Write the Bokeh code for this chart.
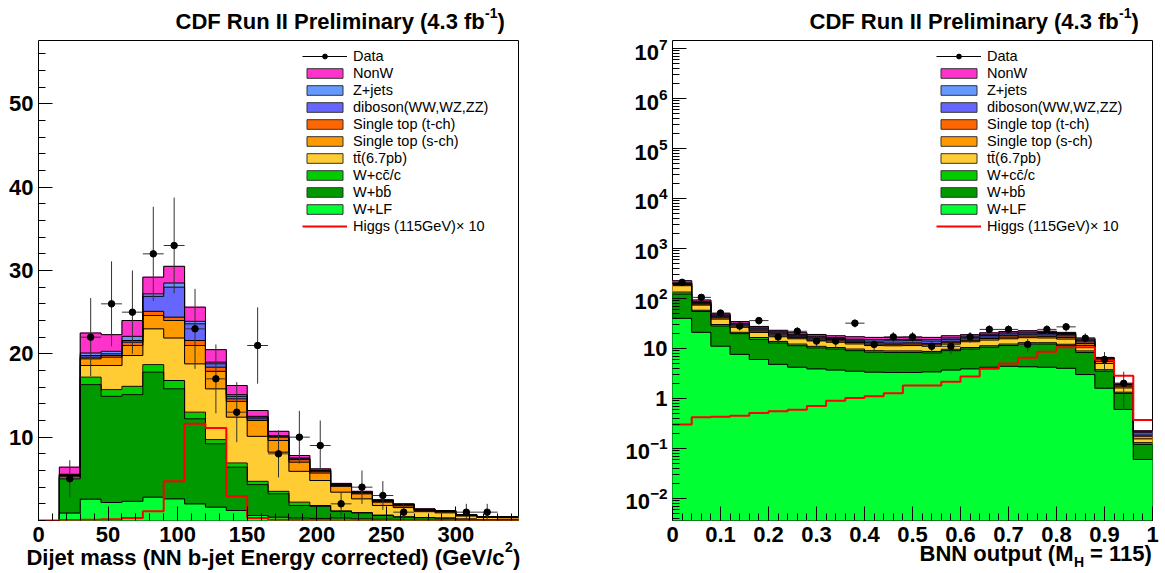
import math
from bokeh.plotting import figure
from bokeh.models import (ColumnDataSource, Label, Legend, LegendItem, FixedTicker,
                          LogTickFormatter, Range1d)
from bokeh.layouts import row, column
from bokeh.embed import file_html
from bokeh.resources import INLINE

FONT = "Liberation Sans"

# ---------------- left panel: dijet mass ----------------
mjj_edges = [0, 15, 30, 45, 60, 75, 90, 105, 120, 135, 150, 165, 180, 195, 210,
             225, 240, 255, 270, 285, 300, 315, 330, 345]
mjj_wlf = [0, 0.9, 2.56, 2.16, 2.3, 2.8, 2.6, 2.0, 1.6, 1.2, 0.6, 0.4, 0.3, 0.25, 0.3,
           0.2, 0.15, 0.1, 0.08, 0.06, 0.04, 0.03, 0.03]
mjj_wbb = [0, 4.1, 13.74, 12.74, 12.8, 15.0, 13.2, 10.2, 7.6, 5.2, 3.7, 2.8, 1.5, 1.45, 0.8,
           0.7, 0.45, 0.3, 0.25, 0.22, 0.12, 0.08, 0.07]
mjj_wcc = [0, 0.1, 0.9, 0.8, 1.0, 0.9, 1.0, 0.8, 0.5, 0.5, 0.4, 0.3, 0.4, 0.1, 0.05,
           0.05, 0.05, 0.05, 0.03, 0.02, 0.02, 0.01, 0.01]
mjj_ttbar = [0, 0.2, 1.4, 2.9, 3.7, 4.3, 5.1, 5.8, 6.1, 5.5, 5.4, 4.7, 3.7, 3.0, 2.25,
             1.65, 1.15, 1.1, 0.7, 0.62, 0.36, 0.24, 0.22]
mjj_stop_s = [0, 0.1, 0.8, 1.0, 1.2, 1.6, 2.1, 2.2, 2.1, 1.9, 1.9, 1.4, 1.1, 0.9, 0.7,
              0.6, 0.4, 0.2, 0.15, 0.12, 0.08, 0.05, 0.05]
mjj_stop_t = [0, 0.05, 0.2, 0.2, 0.4, 0.5, 0.4, 0.6, 0.5, 0.3, 0.2, 0.4, 0.3, 0.2, 0.1,
              0.1, 0.1, 0.1, 0.07, 0.06, 0.04, 0.03, 0.03]
mjj_diboson = [0, 0.05, 0.2, 0.2, 0.2, 1.8, 3.6, 2.0, 0.4, 0.3, 0.2, 0.1, 0.1, 0.1, 0.1,
               0.05, 0.05, 0.05, 0.04, 0.03, 0.02, 0.01, 0.01]
mjj_zjets = [0, 0.05, 0.3, 0.3, 0.5, 0.3, 0.5, 0.3, 0.2, 0.2, 0.1, 0.1, 0.1, 0.05, 0.05,
             0.05, 0.05, 0.05, 0.03, 0.03, 0.02, 0.01, 0.01]
mjj_nonw = [0, 0.85, 2.4, 2.0, 1.9, 2.0, 2.0, 1.7, 1.5, 1.1, 0.7, 0.5, 0.3, 0.15, 0.1,
            0.1, 0.1, 0.05, 0.05, 0.04, 0.02, 0.02, 0.01]
mjj_data = [0, 5, 22, 26, 25, 32, 33, 23, 17, 13, 21, 8, 10, 9, 2, 4, 3, 1, 0, 0, 1, 1, 0]
mjj_higgs = [0, 0.05, 0.1, 0.15, 0.3, 1.1, 4.7, 11.6, 11.1, 2.9, 0.3, 0.1, 0.05, 0.05, 0.03,
             0.03, 0.02, 0.02, 0.02, 0.01, 0.01, 0.01, 0.01]
mjj_x_ticks = [0, 50, 100, 150, 200, 250, 300]
mjj_x_labels = ["0", "50", "100", "150", "200", "250", "300"]
mjj_x_minor = list(range(0, 346, 10))
mjj_y_ticks = [10, 20, 30, 40, 50]
mjj_y_minor = list(range(0, 58, 2))

# ---------------- right panel: BNN output ----------------
bnn_edges = [0.0, 0.04, 0.08, 0.12, 0.16, 0.2, 0.24, 0.28, 0.32, 0.36, 0.4, 0.44, 0.48,
             0.52, 0.56, 0.6, 0.64, 0.68, 0.72, 0.76, 0.8, 0.84, 0.88, 0.92, 0.96, 1.0]
bnn_wlf = [40, 21, 11.1, 7.6, 6.0, 4.8, 4.2, 3.9, 3.7, 3.5, 3.35, 3.3, 3.3, 3.4, 3.7, 3.9,
           4.2, 4.4, 4.3, 4.2, 4.0, 3.0, 1.6, 0.6, 0.06]
bnn_wbb = [82, 34, 16.9, 12.1, 9.1, 8.0, 7.1, 6.3, 6.0, 5.5, 5.05, 5.0, 5.0, 4.7, 5.3, 5.8,
           6.4, 7.0, 7.9, 8.0, 7.3, 5.3, 1.9, 0.66, 0.06]
bnn_wcc = [12, 3, 2, 1.3, 1.4, 1.0, 0.9, 0.8, 0.7, 0.7, 0.6, 0.6, 0.6, 0.6, 0.6, 0.7,
           0.7, 0.8, 0.8, 0.8, 0.8, 0.6, 0.25, 0.07, 0.01]
bnn_ttbar = [46, 15.6, 8.6, 5.5, 4.4, 3.6, 3.4, 3.4, 2.9, 2.6, 2.4, 2.4, 2.5, 2.3, 2.6, 3.2,
             3.4, 3.4, 3.4, 3.2, 3.3, 2.6, 1.25, 0.29, 0.025]
bnn_stop_s = [10, 3.4, 2.4, 1.5, 1.3, 1.1, 1.0, 0.9, 0.9, 0.8, 0.8, 0.8, 0.8, 0.8, 0.8, 0.9,
              1.1, 1.2, 1.2, 1.2, 1.2, 1.0, 0.5, 0.13, 0.02]
bnn_stop_t = [6, 3, 2, 1.5, 1.2, 1.0, 0.9, 0.8, 0.8, 0.8, 0.8, 0.7, 0.7, 0.8, 0.9, 1.0,
              1.1, 1.2, 1.2, 1.2, 1.2, 1.0, 0.5, 0.1, 0.01]
bnn_diboson = [6, 3, 2, 1.3, 1.2, 1.0, 0.8, 0.8, 0.7, 0.7, 1.0, 1.4, 1.4, 1.4, 1.3, 1.1,
               1.3, 1.4, 1.4, 1.2, 1.1, 1.0, 0.3, 0.05, 0.02]
bnn_zjets = [6, 3, 2, 1.2, 1.2, 1.0, 0.8, 0.7, 0.7, 0.7, 1.0, 0.9, 0.9, 1.0, 1.0, 0.9,
             1.0, 1.0, 1.0, 1.0, 1.0, 0.8, 0.15, 0.05, 0.01]
bnn_nonw = [18, 7, 3, 2.5, 1.7, 1.5, 1.5, 1.4, 1.5, 1.8, 1.6, 1.5, 1.6, 1.6, 1.7, 1.3,
            1.3, 1.4, 1.4, 1.2, 1.0, 0.8, 0.15, 0.05, 0.01]
bnn_data = [210, 105, 51, 28, 36, 17, 22, 14, 14, 32, 12, 17, 17, 11, 11, 17, 24, 24, 12,
            24, 27, 16, 6, 2, 0]
bnn_higgs = [0.30, 0.42, 0.43, 0.45, 0.51, 0.55, 0.59, 0.70, 0.90, 1.02, 1.10, 1.26, 1.8,
             1.8, 2.15, 2.75, 3.9, 5.0, 6.5, 8.6, 10.5, 10.5, 5.9, 2.85, 0.37]
bnn_x_ticks = [0, 0.1, 0.2, 0.3, 0.4, 0.5, 0.6, 0.7, 0.8, 0.9, 1.0]
bnn_x_labels = ["0", "0.1", "0.2", "0.3", "0.4", "0.5", "0.6", "0.7", "0.8", "0.9", "1"]
bnn_x_minor = [i * 0.02 for i in range(0, 51)]
bnn_y_ticks = [1e-2, 1e-1, 1, 10, 1e2, 1e3, 1e4, 1e5, 1e6, 1e7]
bnn_y_minor = [m * 10.0 ** k for k in range(-3, 7) for m in range(2, 10)]

comp_names = ["W+LF", "W+b\u0062\u0304", "W+c\u0063\u0304/c", "t\u0074\u0304(6.7pb)",
              "Single top (s-ch)", "Single top (t-ch)", "diboson(WW,WZ,ZZ)", "Z+jets", "NonW"]
comp_colors = ["#00FF33", "#009900", "#00CC00", "#FFCC33", "#FF9900", "#FF6600",
               "#6666FF", "#6699FF", "#FF33CC"]


def make_panel(width, border_left, edges, comps, data, higgs, log, xr, yr,
               xt, xlabels, xminor, yt, yminor):
    p = figure(width=width, height=573, output_backend="svg", toolbar_location=None,
               x_range=Range1d(*xr), y_range=Range1d(*yr),
               y_axis_type="log" if log else "linear",
               min_border_left=border_left, min_border_right=width - border_left - 480,
               min_border_top=40, min_border_bottom=53)
    p.background_fill_color = "white"
    p.border_fill_color = "white"
    p.outline_line_color = "black"
    p.outline_line_width = 1
    p.xgrid.visible = False
    p.ygrid.visible = False

    n = len(edges) - 1
    floor = 1e-4
    cum = [0.0] * n
    tops = []
    band_renderers = []
    for vals, col in zip(comps, comp_colors):
        bottom = [c if (c > 0 or not log) else floor for c in cum]
        top = [c + v for c, v in zip(cum, vals)]
        src = ColumnDataSource(dict(left=edges[:-1], right=edges[1:], bottom=bottom, top=top))
        p.quad(left="left", right="right", bottom="bottom", top="top", source=src,
               fill_color=col, line_color=col, line_width=1)
        # hidden twin that only supplies the outlined legend box
        lr = p.quad(left="left", right="right", bottom="bottom", top="top", source=src,
                    fill_color=col, line_color="#333333", line_width=1, visible=False)
        band_renderers.append(lr)
        tops.append(top)
        cum = top
    for top in tops:
        p.step(x=edges, y=top + [top[-1]], mode="after", line_color="black", line_width=1)

    hr = p.step(x=edges, y=higgs + [higgs[-1]], mode="after", line_color="#FF0000", line_width=2)

    centers = [(a + b) / 2 for a, b in zip(edges[:-1], edges[1:])]
    dx, dy, dl, dr, dlo, dhi = [], [], [], [], [], []
    for i, v in enumerate(data):
        if v > 0:
            e = math.sqrt(v)
            dx.append(centers[i]); dy.append(v)
            dl.append(edges[i]); dr.append(edges[i + 1])
            lo = v - e
            if log and lo <= 0:
                lo = floor
            dlo.append(lo); dhi.append(v + e)
    dsrc = ColumnDataSource(dict(x=dx, y=dy, l=dl, r=dr, lo=dlo, hi=dhi))
    p.segment(x0="x", y0="lo", x1="x", y1="hi", source=dsrc, line_color="#333333", line_width=1)
    p.segment(x0="l", y0="y", x1="r", y1="y", source=dsrc, line_color="#333333", line_width=1)
    ds = p.scatter(x="x", y="y", source=dsrc, size=6.5, fill_color="black", line_color="black")
    dline = p.line(x="x", y="y", source=dsrc, line_color="black", line_width=1, visible=False)

    for ax in (p.xaxis[0], p.yaxis[0]):
        ax.axis_line_color = None
        ax.major_tick_in = 14
        ax.major_tick_out = 0
        ax.minor_tick_in = 7
        ax.minor_tick_out = 0
        ax.major_tick_line_color = "black"
        ax.minor_tick_line_color = "black"
        ax.major_label_text_font = FONT
        ax.major_label_text_font_style = "bold"
        ax.major_label_text_font_size = "22px"
        ax.major_label_text_color = "black"
    p.xaxis[0].ticker = FixedTicker(ticks=xt, minor_ticks=xminor)
    p.xaxis[0].major_label_overrides = {t: s for t, s in zip(xt, xlabels)}
    p.xaxis[0].major_label_standoff = 6
    p.yaxis[0].ticker = FixedTicker(ticks=yt, minor_ticks=yminor)
    p.yaxis[0].major_label_standoff = 5
    if log:
        p.yaxis[0].formatter = LogTickFormatter()
        p.yaxis[0].major_label_overrides = {1: "1", 10: "10"}

    items = [LegendItem(label="Data", renderers=[dline, ds])]
    for name, r in reversed(list(zip(comp_names, band_renderers))):
        items.append(LegendItem(label=name, renderers=[r]))
    items.append(LegendItem(label="Higgs (115GeV)\u00d7 10", renderers=[hr]))
    leg = Legend(items=items, location=(264, 286), padding=0, margin=0, spacing=0,
                 glyph_width=45, glyph_height=12, label_height=17, label_standoff=6,
                 label_text_font=FONT, label_text_font_size="14.5px",
                 label_text_color="black", background_fill_alpha=0,
                 border_line_color=None)
    p.add_layout(leg)
    return p


left = make_panel(583, 38, mjj_edges,
                  [mjj_wlf, mjj_wbb, mjj_wcc, mjj_ttbar, mjj_stop_s, mjj_stop_t,
                   mjj_diboson, mjj_zjets, mjj_nonw],
                  mjj_data, mjj_higgs, False, (0, 345), (0, 57.6),
                  mjj_x_ticks, mjj_x_labels, mjj_x_minor, mjj_y_ticks, mjj_y_minor)
right = make_panel(582, 89, bnn_edges,
                   [bnn_wlf, bnn_wbb, bnn_wcc, bnn_ttbar, bnn_stop_s, bnn_stop_t,
                    bnn_diboson, bnn_zjets, bnn_nonw],
                   bnn_data, bnn_higgs, True, (0, 1), (3.6e-3, 1.45e7),
                   bnn_x_ticks, bnn_x_labels, bnn_x_minor, bnn_y_ticks, bnn_y_minor)

# transparent full-canvas overlay carrying titles and axis titles (with super/subscripts)
tf = figure(width=1165, height=573, output_backend="svg", toolbar_location=None,
            x_range=Range1d(0, 1165), y_range=Range1d(573, 0),
            x_axis_location=None, y_axis_location=None, min_border=0,
            background_fill_color=None, border_fill_color=None, outline_line_color=None)
tf.grid.visible = False
tf.margin = (-573, 0, 0, 0)


def txt(x, y, s, size, align="left"):
    tf.add_layout(Label(x=x, y=y, text=s, text_font=FONT, text_font_size=f"{size}px",
                        text_font_style="bold", text_align=align,
                        text_baseline="alphabetic", text_color="black"))


for x0 in (175, 809):
    txt(x0, 21, "CDF Run II Preliminary (4.3 fb", 22)
    txt(x0 + 309.5, 12, "-1", 14)
    txt(x0 + 322, 21, ")", 22)

txt(504, 557, "Dijet mass (NN b-jet Energy corrected) (GeV/c", 22, "right")
txt(504.5, 546, "2", 14)
txt(512.5, 557, ")", 22)

txt(1073, 553, "BNN output (M", 22, "right")
txt(1073.5, 561, "H", 14)
txt(1089.5, 553, "= 115)", 22)

layout = column(row(left, right, spacing=0), tf, spacing=0)
open("out.html", "w").write(file_html(layout, INLINE))
